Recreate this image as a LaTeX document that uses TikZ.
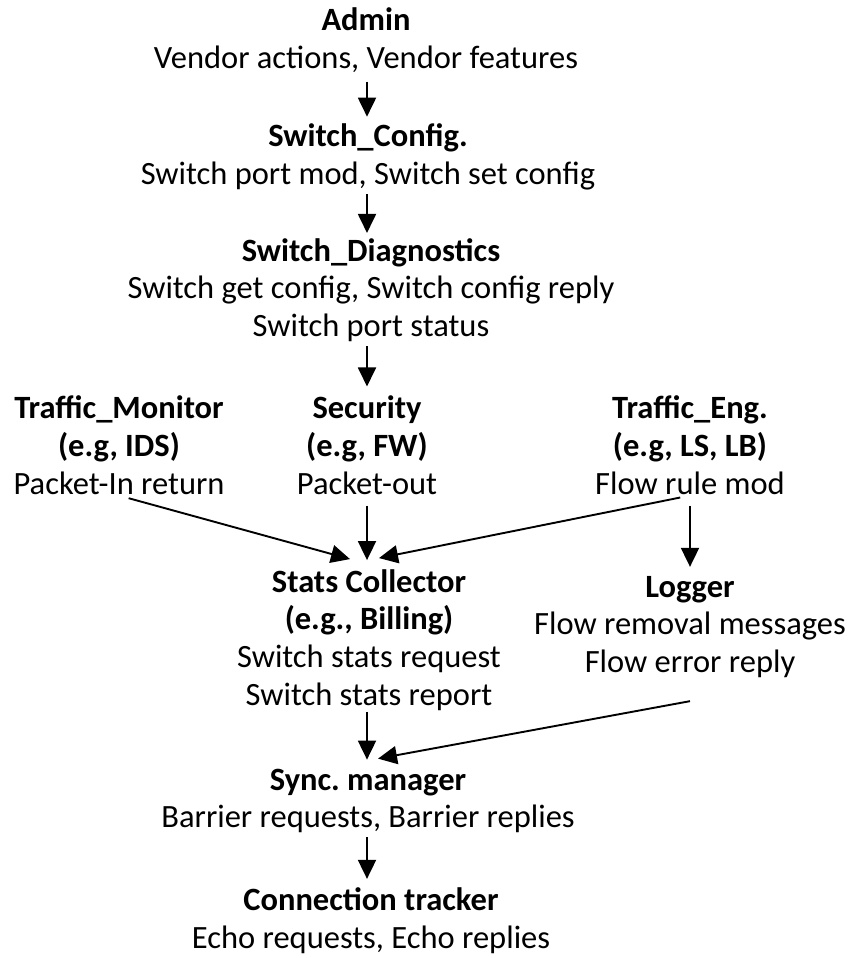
\documentclass[tikz,border=0pt]{standalone}
\usepackage{fontspec}
\setmainfont{Carlito}
\usetikzlibrary{arrows.meta,calc}
\frenchspacing

\begin{document}
\begin{tikzpicture}[x=1pt,y=-1pt,
        blk/.style={align=center,inner sep=1pt,font=\fontsize{32.5}{37.8}\selectfont},
        arr/.style={line width=1.9pt,shorten <=3pt,shorten >=8pt,-{Triangle[length=19pt,width=18pt]}}
    ]
    \useasboundingbox (0,0) rectangle (847,958);
    \node[blk] (admin) at (366,40) {\textbf{Admin}\\Vendor actions, Vendor features};
    \node[blk] (config) at (368,157) {\textbf{Switch\_Config.}\\Switch port mod, Switch set config};
    \node[blk] (diag) at (371,290) {\textbf{Switch\_Diagnostics}\\Switch get config, Switch config reply\\Switch port status};
    \node[blk] (tmon) at (119,445) {\textbf{Traffic\_Monitor}\\\textbf{(e.g, IDS)}\\Packet-In return};
    \node[blk] (sec) at (367,445) {\textbf{Security}\\\textbf{(e.g, FW)}\\Packet-out};
    \node[blk] (teng) at (690,445) {\textbf{Traffic\_Eng.}\\\textbf{(e.g, LS, LB)}\\Flow rule mod};
    \node[blk] (stats) at (369,640) {\textbf{Stats Collector}\\\textbf{(e.g., Billing)}\\Switch stats request\\Switch stats report};
    \node[blk] (logger) at (690,627) {\textbf{Logger}\\Flow removal messages\\Flow error reply};
    \node[blk] (sync) at (368,801) {\textbf{Sync. manager}\\Barrier requests, Barrier replies};
    \node[blk] (conn) at (371,921) {\textbf{Connection tracker}\\Echo requests, Echo replies};
    % top chain
    \draw[arr,shorten <=8pt,shorten >=6pt] (admin.south -| 367,0) -- (config.north -| 367,0);
    \draw[arr,shorten >=4pt] (config.south -| 367,0) -- (diag.north -| 367,0);
    \draw[arr] (diag.south -| sec.north) -- (sec.north);
    % into the collector
    \draw[arr,shorten <=10pt,shorten >=0pt] (tmon.south) -- ([xshift=-19pt,yshift=9pt]stats.north);
    \draw[arr,shorten <=10pt] (sec.south) -- (sec.south |- stats.north);
    \draw[arr,shorten <=10pt,shorten >=0pt] (teng.south) -- ([xshift=10pt,yshift=10pt]stats.north);
    \draw[arr,shorten <=10pt] (teng.south) -- (logger.north);
    % bottom chain
    \draw[arr,shorten <=0pt] (sec.south |- stats.south) -- (sec.south |- sync.north);
    \draw[arr,shorten <=0pt,shorten >=0pt] ([yshift=-22pt]logger.south) -- ([xshift=10pt,yshift=9pt]sync.north);
    \draw[arr] (sec.south |- sync.south) -- (sec.south |- conn.north);
\end{tikzpicture}
\end{document}
